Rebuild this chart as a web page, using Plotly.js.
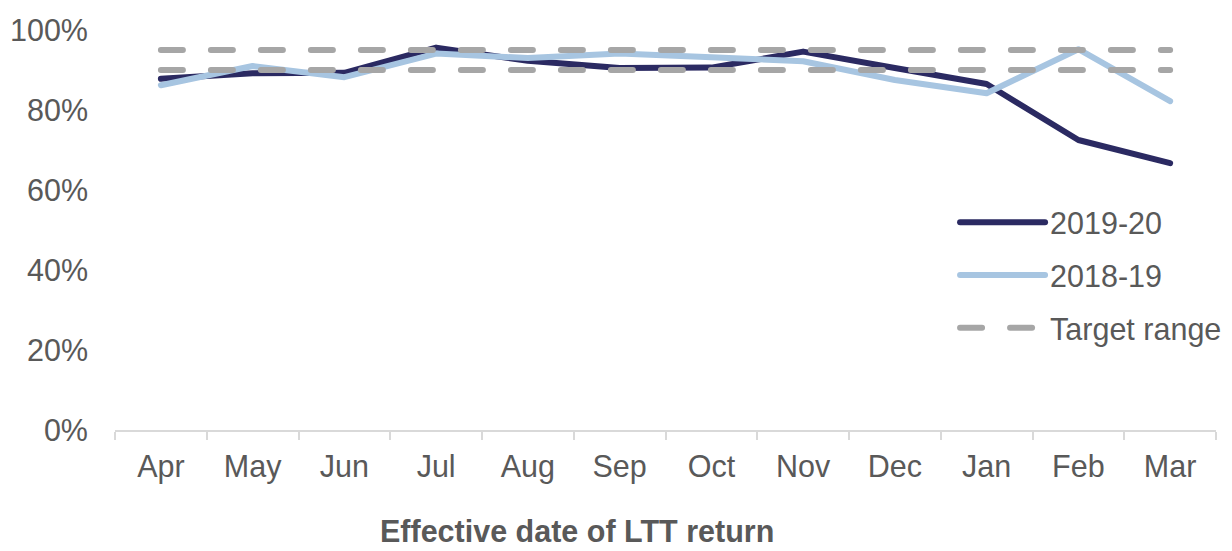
<!DOCTYPE html>
<html>
<head>
<meta charset="utf-8">
<script src="https://cdn.plot.ly/plotly-3.0.1.min.js"></script>
<style>
  html, body { margin: 0; padding: 0; background: #ffffff; }
  #chart { width: 1232px; height: 551px; }
  .js-line { stroke-linecap: round; stroke-linejoin: round; }
</style>
</head>
<body>
<div id="chart"></div>
<script>
const months = ["Apr", "May", "Jun", "Jul", "Aug", "Sep", "Oct", "Nov", "Dec", "Jan", "Feb", "Mar"];
const series2019_20 = [0.878, 0.892, 0.893, 0.956, 0.923, 0.905, 0.906, 0.946, 0.905, 0.865, 0.725, 0.667];
const series2018_19 = [0.862, 0.910, 0.882, 0.941, 0.930, 0.941, 0.932, 0.922, 0.875, 0.842, 0.952, 0.822];
const targetUpper = [0.95, 0.95, 0.95, 0.95, 0.95, 0.95, 0.95, 0.95, 0.95, 0.95, 0.95, 0.95];
const targetLower = [0.90, 0.90, 0.90, 0.90, 0.90, 0.90, 0.90, 0.90, 0.90, 0.90, 0.90, 0.90];
const yTickVals = [0, 0.2, 0.4, 0.6, 0.8, 1.0];
const yTickText = ["0%", "20%", "40%", "60%", "80%", "100%"];

const textColor = "#595959";
const fontFamily = "Liberation Sans, Arial, sans-serif";
const dashPattern = "22px,28px";

const traces = [
  {
    x: months, y: series2019_20, type: "scatter", mode: "lines", name: "2019-20",
    line: { color: "#2b2a62", width: 6 }, hoverinfo: "skip"
  },
  {
    x: months, y: series2018_19, type: "scatter", mode: "lines", name: "2018-19",
    line: { color: "#a7c5e1", width: 6 }, hoverinfo: "skip"
  },
  {
    x: months, y: targetUpper, type: "scatter", mode: "lines", name: "Target range",
    line: { color: "#a6a6a6", width: 6, dash: dashPattern }, legendgroup: "t", hoverinfo: "skip"
  },
  {
    x: months, y: targetLower, type: "scatter", mode: "lines", name: "Target range",
    line: { color: "#a6a6a6", width: 6, dash: dashPattern }, legendgroup: "t", showlegend: false, hoverinfo: "skip"
  }
];

const layout = {
  width: 1232, height: 551,
  margin: { l: 115, r: 16, t: 30, b: 121, autoexpand: false },
  paper_bgcolor: "#ffffff", plot_bgcolor: "#ffffff",
  font: { family: fontFamily, color: textColor, size: 30.5 },
  showlegend: true,
  legend: {
    x: 0.763, y: 0.585, xanchor: "left", yanchor: "top",
    font: { family: fontFamily, color: textColor, size: 30.5 },
    itemwidth: 85,
    tracegroupgap: 10,
    bgcolor: "rgba(0,0,0,0)"
  },
  xaxis: {
    type: "category", categoryorder: "array", categoryarray: months,
    range: [-0.5, 11.5],
    showgrid: false, zeroline: false,
    showline: true, linecolor: "#d9d9d9", linewidth: 2,
    ticks: "outside", tickson: "boundaries", ticklen: 8, tickcolor: "#d9d9d9", tickwidth: 2,
    ticklabelstandoff: 8,
    tickfont: { family: fontFamily, color: textColor, size: 30.5 },
    fixedrange: true
  },
  yaxis: {
    range: [0, 1.0], tickvals: yTickVals, ticktext: yTickText,
    showgrid: false, zeroline: false, showline: false,
    ticks: "", ticklabelstandoff: 26,
    tickfont: { family: fontFamily, color: textColor, size: 30.5 },
    fixedrange: true
  },
  annotations: [
    {
      text: "<b>Effective date of LTT return</b>",
      xref: "paper", yref: "paper",
      x: 0.42, y: -0.3, xanchor: "center", yanchor: "bottom",
      showarrow: false,
      font: { family: fontFamily, color: textColor, size: 30.5 }
    }
  ]
};

Plotly.newPlot("chart", traces, layout, { displayModeBar: false, staticPlot: true });
</script>
</body>
</html>
